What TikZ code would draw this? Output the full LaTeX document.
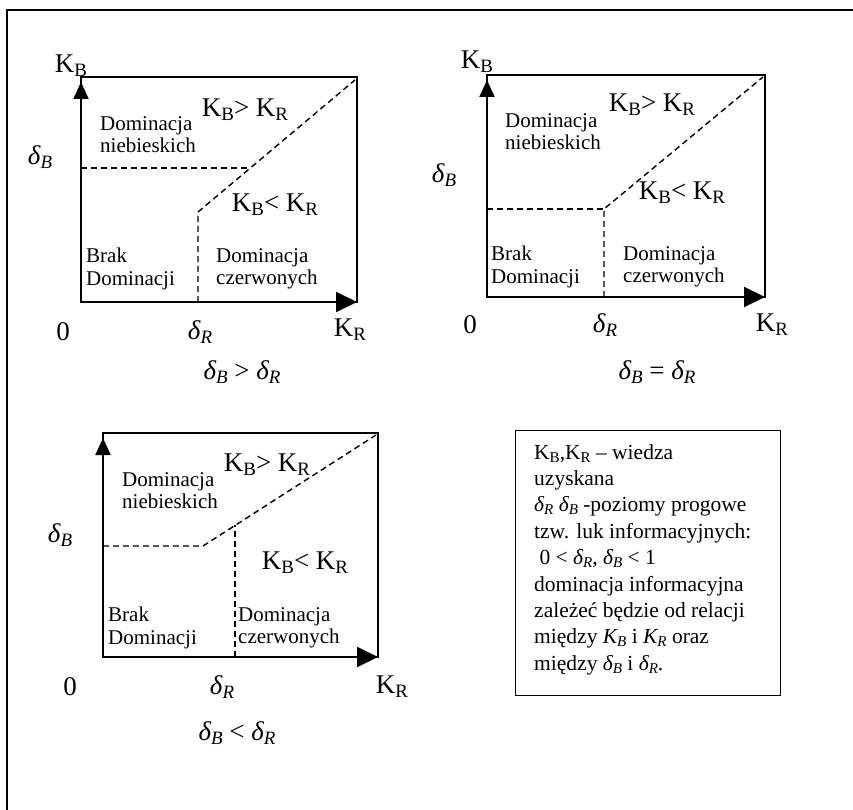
\documentclass[tikz,border=0pt]{standalone}
\usepackage{fontspec}
\setmainfont{Liberation Serif}
\usetikzlibrary{arrows.meta}
\newcommand\Kx[1]{K\raisebox{-0.3ex}{\scalebox{0.7}{#1}}}
\newcommand\dx[1]{\textit{δ\raisebox{-0.3ex}{\scalebox{0.7}{#1}}}}
\tikzset{
  frm/.style={line width=1.6pt},
  boxln/.style={line width=2pt},
  dsh/.style={dash pattern=on 6pt off 4pt, line width=1.4pt},
  axv/.style={line width=2pt, -{Triangle[length=17pt,width=15pt]}},
  axh/.style={line width=2pt, -{Triangle[length=21pt,width=20pt]}},
  big/.style={font=\fontsize{27}{30}\selectfont, inner sep=0},
  reg/.style={font=\fontsize{21}{22.5}\selectfont, align=left, anchor=north west, inner sep=0},
  leg/.style={font=\fontsize{21.5}{26.4}\selectfont, align=left, anchor=north west, inner sep=0}
}
\begin{document}
\begin{tikzpicture}[x=1pt,y=-1pt]
\useasboundingbox (0,0) rectangle (853,810);
% outer frame
\coordinate (fa) at (7,810);
\coordinate (fb) at (7,10);
\coordinate (fc) at (853,10);
\draw[frm] (fa) -- (fb) -- (fc);

% ---------- panel 1 ----------
\coordinate (o1) at (81,302);
\coordinate (t1) at (81,82);
\coordinate (r1) at (357,302);
\draw[boxln] (81,77) rectangle (357,302);
\draw[axv] (o1) -- (t1);
\draw[axh] (o1) -- (r1);
\coordinate (h1a) at (81,168);
\coordinate (h1b) at (250,168);
\coordinate (v1a) at (198,302);
\coordinate (v1b) at (198,212);
\coordinate (d1) at (355,80);
\draw[dsh] (h1a) -- (h1b);
\draw[dsh] (v1a) -- (v1b) -- (d1);
\node[big] (kb1) at (71,66) {\Kx{B}};
\node[big] (db1) at (40,157) {\dx{B}};
\node[big] (z1) at (63,332) {0};
\node[big] (dr1) at (200,332) {\dx{R}};
\node[big] (kr1) at (350,330) {\Kx{R}};
\node[big] (gt1) at (245,110) {\Kx{B}> \Kx{R}};
\node[big] (lt1) at (275,205) {\Kx{B}< \Kx{R}};
\node[reg] (dn1) at (100,116) {Dominacja\\niebieskich};
\node[reg] (bd1) at (86,248) {Brak\\Dominacji};
\node[reg] (dc1) at (216,248) {Dominacja\\czerwonych};
\node[big] (c1) at (242,372) {\dx{B} > \dx{R}};

% ---------- panel 2 ----------
\coordinate (o2) at (487,297);
\coordinate (t2) at (487,80);
\coordinate (r2) at (765,297);
\draw[boxln] (487,75) rectangle (765,297);
\draw[axv] (o2) -- (t2);
\draw[axh] (o2) -- (r2);
\coordinate (h2a) at (487,209);
\coordinate (p2) at (604,209);
\coordinate (v2a) at (604,297);
\coordinate (d2) at (763,77);
\draw[dsh] (h2a) -- (p2);
\draw[dsh] (v2a) -- (p2) -- (d2);
\node[big] (kb2) at (477,62) {\Kx{B}};
\node[big] (db2) at (444,175) {\dx{B}};
\node[big] (z2) at (470,325) {0};
\node[big] (dr2) at (605,325) {\dx{R}};
\node[big] (kr2) at (772,325) {\Kx{R}};
\node[big] (gt2) at (652,105) {\Kx{B}> \Kx{R}};
\node[big] (lt2) at (682,193) {\Kx{B}< \Kx{R}};
\node[reg] (dn2) at (505,113) {Dominacja\\niebieskich};
\node[reg] (bd2) at (491,246) {Brak\\Dominacji};
\node[reg] (dc2) at (623,246) {Dominacja\\czerwonych};
\node[big] (c2) at (657,372) {\dx{B} = \dx{R}};

% ---------- panel 3 ----------
\coordinate (o3) at (103,657);
\coordinate (t3) at (103,438);
\coordinate (r3) at (378,657);
\draw[boxln] (103,433) rectangle (378,657);
\draw[axv] (o3) -- (t3);
\draw[axh] (o3) -- (r3);
\coordinate (h3a) at (103,546);
\coordinate (p3) at (203,546);
\coordinate (d3) at (376,435);
\coordinate (v3a) at (235,657);
\coordinate (v3b) at (235,525);
\draw[dsh] (h3a) -- (p3) -- (d3);
\draw[dsh] (v3a) -- (v3b);
\node[big] (db3) at (60,535) {\dx{B}};
\node[big] (z3) at (70,687) {0};
\node[big] (dr3) at (222,687) {\dx{R}};
\node[big] (kr3) at (392,687) {\Kx{R}};
\node[big] (gt3) at (267,465) {\Kx{B}> \Kx{R}};
\node[big] (lt3) at (305,563) {\Kx{B}< \Kx{R}};
\node[reg] (dn3) at (122,472) {Dominacja\\niebieskich};
\node[reg] (bd3) at (108,607) {Brak\\Dominacji};
\node[reg] (dc3) at (238,607) {Dominacja\\czerwonych};
\node[big] (c3) at (237,733) {\dx{B} < \dx{R}};

% ---------- legend ----------
\node[draw, line width=1.4pt, minimum width=265pt, minimum height=265pt, anchor=north west, inner sep=0] (lg) at (515,430) {};
\node[leg] (lt) at (534,444) {\Kx{B},\Kx{R} – wiedza\\
uzyskana\\
\dx{R} \dx{B} -poziomy progowe\\
tzw. luk informacyjnych:\\
\ 0 < \dx{R}, \dx{B} < 1\\
dominacja informacyjna\\
zależeć będzie od relacji\\
między \textit{\Kx{B}} i \textit{\Kx{R}} oraz\\
między \dx{B} i \dx{R}.};
\end{tikzpicture}
\end{document}
